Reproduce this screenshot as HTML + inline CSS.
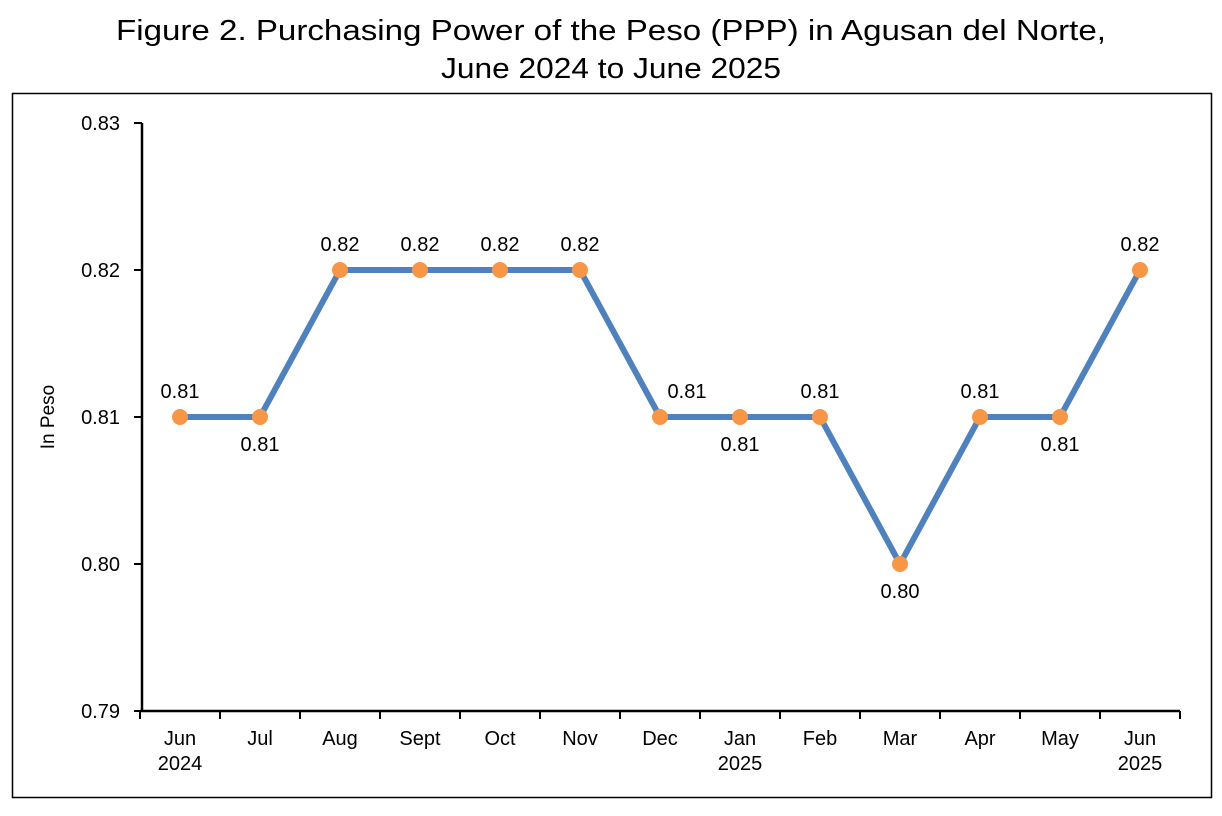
<!DOCTYPE html>
<html><head><meta charset="utf-8"><style>
body{margin:0;background:#fff;font-family:"Liberation Sans",Arial,sans-serif;}
svg text{font-family:"Liberation Sans",Arial,sans-serif;}
</style></head><body>
<svg width="1222" height="811" xmlns="http://www.w3.org/2000/svg">
<text x="611" y="40" text-anchor="middle" font-size="29" textLength="990" lengthAdjust="spacingAndGlyphs">Figure 2. Purchasing Power of the Peso (PPP) in Agusan del Norte,</text>
<text x="611" y="78" text-anchor="middle" font-size="29" textLength="340" lengthAdjust="spacingAndGlyphs">June 2024 to June 2025</text>
<rect x="12.5" y="93.5" width="1199" height="704" fill="none" stroke="#000" stroke-width="1.5"/>
<text transform="translate(54,417) rotate(-90)" text-anchor="middle" font-size="19">In Peso</text>
<g id="axes"></g>
<g id="marks"></g>
</svg>
<script>
const categories=["Jun|2024","Jul","Aug","Sept","Oct","Nov","Dec","Jan|2025","Feb","Mar","Apr","May","Jun|2025"];
const values=[0.81,0.81,0.82,0.82,0.82,0.82,0.81,0.81,0.81,0.80,0.81,0.81,0.82];
const labelAbove=[1,0,1,1,1,1,1,0,1,0,1,0,1];
const labelShift=[0,0,0,0,0,0,27,0,0,0,0,0,0];
const yTicks=[0.79,0.80,0.81,0.82,0.83];
const NS="http://www.w3.org/2000/svg";
const x0=140,bw=80,yMin=0.79,yMax=0.83,yTop=123,yBot=711;
const xS=i=>x0+bw*(i+0.5);
const yS=v=>yBot-(v-yMin)/(yMax-yMin)*(yBot-yTop);
function mk(t,a,p){const e=document.createElementNS(NS,t);for(const k in a)e.setAttribute(k,a[k]);p.appendChild(e);return e;}
const ax=document.getElementById('axes'),mg=document.getElementById('marks');
let e=mk('line',{x1:142,y1:yTop,x2:142,y2:yBot,stroke:'#000','stroke-width':2.5},ax);


e=mk('line',{x1:x0,y1:yBot,x2:x0+bw*categories.length,y2:yBot,stroke:'#000','stroke-width':2.5},ax);


yTicks.forEach(v=>{mk('line',{x1:134,y1:yS(v),x2:142,y2:yS(v),stroke:'#000','stroke-width':2},ax);
const t=mk('text',{x:120,y:yS(v)+7,'text-anchor':'end','font-size':20},ax);t.textContent=v.toFixed(2);

});
for(let i=0;i<=categories.length;i++)mk('line',{x1:x0+bw*i,y1:yBot,x2:x0+bw*i,y2:yBot+8,stroke:'#000','stroke-width':2},ax);
categories.forEach((c,i)=>{c.split('|').forEach((s,j)=>{const t=mk('text',{x:xS(i),y:745+j*25,'text-anchor':'middle','font-size':20},ax);t.textContent=s;

});});
const pl=mk('polyline',{points:values.map((v,i)=>xS(i)+','+yS(v)).join(' '),fill:'none',stroke:'#4f81bd','stroke-width':6,'stroke-linejoin':'round'},mg);


values.forEach((v,i)=>{const c=mk('circle',{cx:xS(i),cy:yS(v),r:8,fill:'#f79646'},mg);


const t=mk('text',{x:xS(i)+labelShift[i],y:labelAbove[i]?yS(v)-19:yS(v)+34,'text-anchor':'middle','font-size':20},mg);t.textContent=v.toFixed(2);

});
</script>
</body></html>
